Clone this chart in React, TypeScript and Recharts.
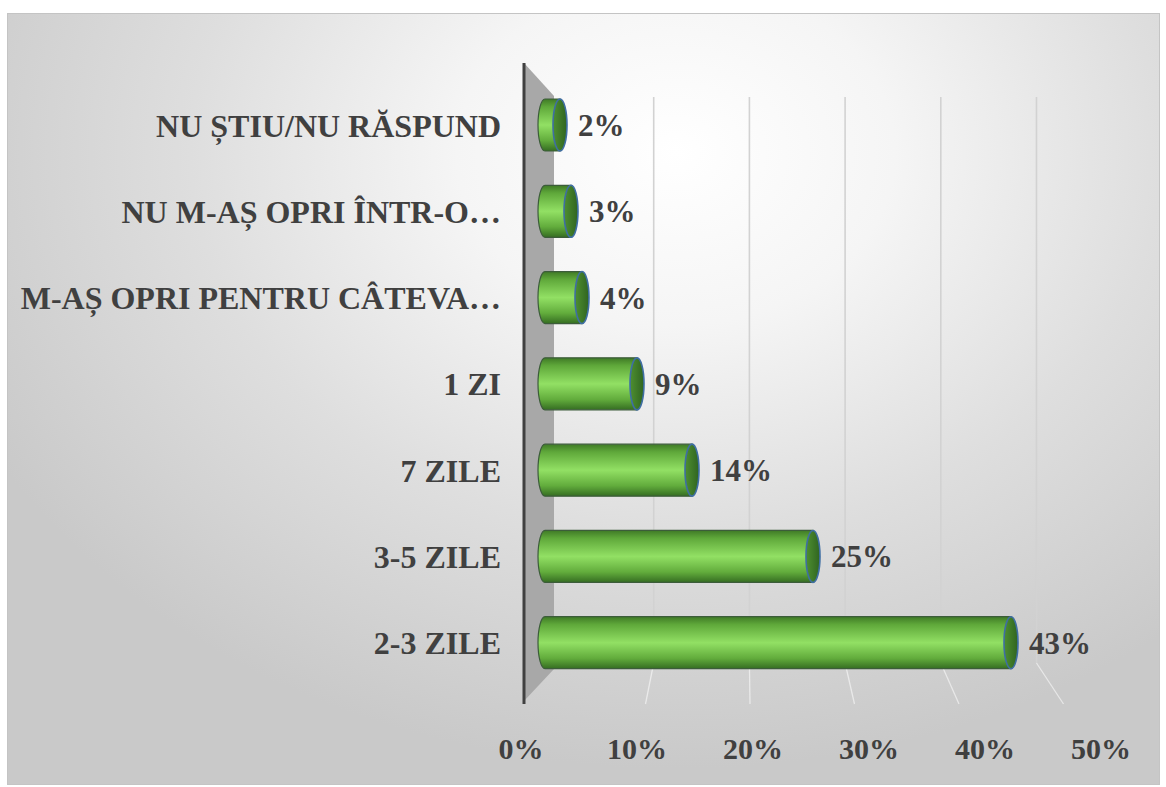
import { BarChart, Bar, XAxis, YAxis, LabelList } from 'recharts'

const categories = [
  'NU ȘTIU/NU RĂSPUND',
  'NU M-AȘ OPRI ÎNTR-O…',
  'M-AȘ OPRI PENTRU CÂTEVA…',
  '1 ZI',
  '7 ZILE',
  '3-5 ZILE',
  '2-3 ZILE',
]
const values = [2, 3, 4, 9, 14, 25, 43]
const xTicks = [0, 10, 20, 30, 40, 50]

const data = categories.map((name, i) => ({ name, value: values[i] }))

const W = 1153
const H = 772
const AXIS_W = 530
const M = { top: 68, right: 73, bottom: 0, left: 0 }
const X_H = 100
const plot = { left: M.left + AXIS_W, top: M.top, right: W - M.right, bottom: H - X_H }
const pw = plot.right - plot.left
const backX = (v: number) => plot.left + 20 + (v / 50) * pw * 0.87
const floorX = (v: number) => plot.left + 3 + (v / 50) * pw * 0.95

const fontFamily = '"Liberation Serif", "Times New Roman", serif'
const catFont = { fontFamily, fontSize: 32, fontWeight: 700, fill: '#404040' }
const valFont = { fontFamily, fontSize: 31, fontWeight: 700, fill: '#404040' }
const tickFont = { fontFamily, fontSize: 30, fontWeight: 700, fill: '#404040' }

// eslint-disable-next-line @typescript-eslint/no-explicit-any
function Cylinder(props: any) {
  const { x, y, width, height } = props
  if (!width || width <= 0) return null
  const rx = 7
  const ry = height / 2
  const x0 = x + rx
  const x1 = x + width
  const body = `M${x0},${y} L${x1},${y} L${x1},${y + height} L${x0},${y + height} A${rx},${ry} 0 0 1 ${x0},${y} Z`
  return (
    <g>
      <path d={body} fill="url(#cylBody)" stroke="#3c5c3a" strokeWidth={1.2} />
      <ellipse cx={x1} cy={y + ry} rx={rx} ry={ry} fill="url(#cylCap)" stroke="#3f6ea3" strokeWidth={1.6} />
    </g>
  )
}

// eslint-disable-next-line @typescript-eslint/no-explicit-any
function XTick(props: any) {
  const { x, y, payload } = props
  const nx = plot.left - 17 + (x - plot.left) * (580 / pw)
  return (
    <text x={nx} y={y} dy="0.71em" textAnchor="middle" style={tickFont} fill="#404040">{payload.value}%</text>
  )
}

function Underlay() {
  const axisX = plot.left - 14
  const wallX = plot.left + 16
  return (
    <svg width={W} height={H} style={{ position: 'absolute', left: 0, top: 0 }}>
      {xTicks.slice(1).map(v => (
        <line key={'g' + v} x1={backX(v)} x2={backX(v)} y1={plot.top + 15} y2={plot.bottom - 23} stroke="#d2d2d2" strokeWidth={1.6} />
      ))}
      {xTicks.slice(1).map(v => (
        <line key={'f' + v} x1={backX(v)} x2={floorX(v)} y1={plot.bottom - 23} y2={plot.bottom + 18} stroke="#ffffff" strokeOpacity={0.55} strokeWidth={1.3} />
      ))}
      <polygon
        points={`${axisX},${plot.top - 19} ${wallX},${plot.top + 14} ${wallX},${plot.bottom - 17} ${axisX},${plot.bottom + 15}`}
        fill="#a8a8a8"
      />
      <line x1={axisX} x2={axisX} y1={plot.top - 19} y2={plot.bottom + 18} stroke="#404040" strokeWidth={3} />
    </svg>
  )
}

export default function App() {
  return (
    <div style={{
      position: 'absolute', left: 7, top: 13, width: W, height: H,
      border: '1px solid #c4c4c4', boxSizing: 'border-box',
      background: 'radial-gradient(ellipse 68% 80% at 58% 18%, #ffffff 0%, #f5f5f5 28%, #dedede 62%, #c9c9c9 100%)',
    }}>
      <Underlay />
      <div style={{ position: 'absolute', left: 0, top: 0 }}>
        <BarChart width={W} height={H} data={data} layout="vertical" margin={M} barSize={52}>
          <defs>
            <linearGradient id="cylBody" x1="0" y1="0" x2="0" y2="1">
              <stop offset="0%" stopColor="#3f7a26" />
              <stop offset="15%" stopColor="#5fa83a" />
              <stop offset="50%" stopColor="#92e064" />
              <stop offset="80%" stopColor="#62ac3c" />
              <stop offset="100%" stopColor="#356d22" />
            </linearGradient>
            <linearGradient id="cylCap" x1="0" y1="0" x2="1" y2="0">
              <stop offset="0%" stopColor="#4f8f30" />
              <stop offset="100%" stopColor="#2f6420" />
            </linearGradient>
          </defs>
          <XAxis type="number" domain={[0, 50]} ticks={xTicks} height={X_H} tickSize={0} tickMargin={52}
            axisLine={false} tickLine={false} tick={<XTick />} interval={0} />
          <YAxis type="category" dataKey="name" width={AXIS_W} tickSize={0} tickMargin={37}
            axisLine={false} tickLine={false} tick={catFont} interval={0} />
          <Bar dataKey="value" shape={<Cylinder />} isAnimationActive={false}>
            <LabelList dataKey="value" position="right" offset={18} formatter={(v: any) => `${v}%`} style={valFont} />
          </Bar>
        </BarChart>
      </div>
    </div>
  )
}
